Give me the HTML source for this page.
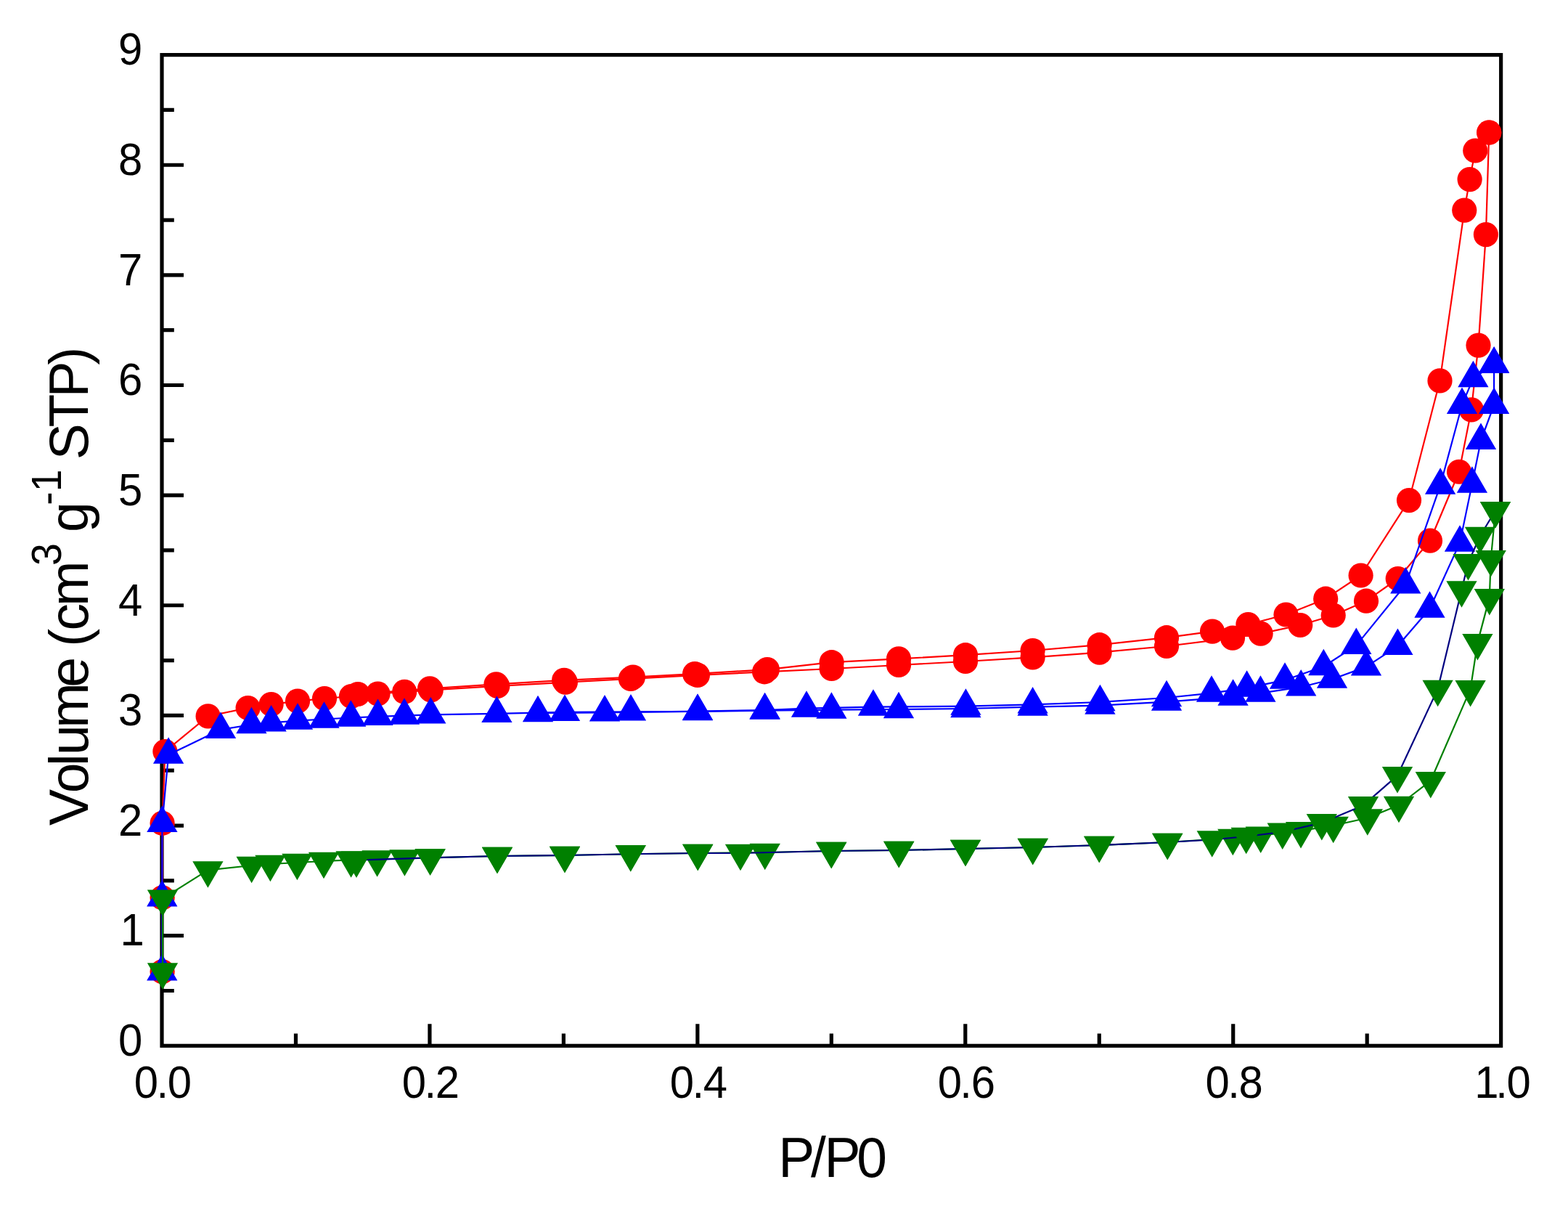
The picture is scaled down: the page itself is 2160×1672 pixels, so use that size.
<!DOCTYPE html>
<html lang="en"><head><meta charset="utf-8"><title>N2 adsorption-desorption isotherms</title>
<style>html,body{margin:0;padding:0;background:#fff}body{width:2160px;height:1672px;overflow:hidden}svg{display:block}text{font-family:"Liberation Sans",sans-serif;fill:#000}.tk{font-size:63px}</style></head><body>
<svg width="2160" height="1672" viewBox="0 0 2160 1672">
<rect width="2160" height="1672" fill="#fff"/>
<g fill="none" stroke="#000" stroke-width="5.2" stroke-linecap="butt">
<rect x="223" y="75.6" width="1844.65" height="1364.7"/>
<path d="M223 1364.48h16.8M223 1288.67h30M223 1212.85h16.8M223 1137.03h30M223 1061.22h16.8M223 985.4h30M223 909.58h16.8M223 833.77h30M223 757.95h16.8M223 682.13h30M223 606.32h16.8M223 530.5h30M223 454.68h16.8M223 378.87h30M223 303.05h16.8M223 227.23h30M223 151.42h16.8M407.47 1440.3v-16.8M591.93 1440.3v-30M776.39 1440.3v-16.8M960.86 1440.3v-30M1145.33 1440.3v-16.8M1329.79 1440.3v-30M1514.25 1440.3v-16.8M1698.72 1440.3v-30M1883.19 1440.3v-16.8"/>
</g>
<g class="tk">
<text transform="translate(163 1454.1) scale(0.95 1)">0</text>
<text transform="translate(165.5 1302.47) scale(0.95 1)">1</text>
<text transform="translate(163 1150.83) scale(0.95 1)">2</text>
<text transform="translate(163 999.2) scale(0.95 1)">3</text>
<text transform="translate(163 847.57) scale(0.95 1)">4</text>
<text transform="translate(163 695.93) scale(0.95 1)">5</text>
<text transform="translate(163 544.3) scale(0.95 1)">6</text>
<text transform="translate(163 392.67) scale(0.95 1)">7</text>
<text transform="translate(163 241.03) scale(0.95 1)">8</text>
<text transform="translate(163 89.4) scale(0.95 1)">9</text>
<text transform="translate(184.86 1512) scale(0.95 1)" x="0 32.29 48.42">0.0</text>
<text transform="translate(553.79 1512) scale(0.95 1)" x="0 32.29 48.42">0.2</text>
<text transform="translate(922.72 1512) scale(0.95 1)" x="0 32.29 48.42">0.4</text>
<text transform="translate(1291.65 1512) scale(0.95 1)" x="0 32.29 48.42">0.6</text>
<text transform="translate(1660.58 1512) scale(0.95 1)" x="0 32.29 48.42">0.8</text>
<text transform="translate(2029.51 1512) scale(0.95 1)" x="1.89 32.29 48.42">1.0</text>
</g>
<text font-size="78.0" transform="translate(1072.2 1620.9) scale(0.9615 1)" x="0 46.55 65.93 112.48">P/P0</text>
<text font-size="76.5" transform="translate(121 1137) rotate(-90) scale(0.9804 1)"><tspan x="0 45.65 83.71 98.92 136.98 194 232.06 251.08 273.87 308.09" y="0">Volume (cm</tspan><tspan font-size="56.5" x="365.1" y="-36.9">3</tspan><tspan x="393.07 412.08" y="0"> g</tspan><tspan font-size="56.5" x="450.15 468.93" y="-36.9">-1</tspan><tspan x="494.86 513.88 559.53 601.33 646.98" y="0"> STP)</tspan></text>
<polyline fill="none" stroke="#ff0000" stroke-width="2.2" stroke-linejoin="round" points="223.6,1338.2 223.6,1236.3 223.6,1133.8 227.4,1035 286.6,986.4 341.6,975 373.6,970 410,965.6 447,962 484,959 520.5,955.5 557.2,952.8 593.7,950.4 685.3,944.9 778.9,939.7 868.9,934.9 960.9,929.9 1053.1,925.3 1145.6,921 1238,916 1330,911 1422.6,905.4 1514.6,898.6 1607,890 1698,878.6 1736.6,872.6 1791.2,861 1836.7,847.5 1882,827.7 1925.7,797 1970,744.7 2010,649.75 2026.9,564.4 2036.5,475.6 2046.9,323.1 2051.25,182.5"/>
<g fill="#ff0000"><circle cx="223.6" cy="1338.2" r="17.1"/><circle cx="223.6" cy="1236.3" r="17.1"/><circle cx="223.6" cy="1133.8" r="17.1"/><circle cx="227.4" cy="1035" r="17.1"/><circle cx="286.6" cy="986.4" r="17.1"/><circle cx="341.6" cy="975" r="17.1"/><circle cx="373.6" cy="970" r="17.1"/><circle cx="410" cy="965.6" r="17.1"/><circle cx="447" cy="962" r="17.1"/><circle cx="484" cy="959" r="17.1"/><circle cx="520.5" cy="955.5" r="17.1"/><circle cx="557.2" cy="952.8" r="17.1"/><circle cx="593.7" cy="950.4" r="17.1"/><circle cx="685.3" cy="944.9" r="17.1"/><circle cx="778.9" cy="939.7" r="17.1"/><circle cx="868.9" cy="934.9" r="17.1"/><circle cx="960.9" cy="929.9" r="17.1"/><circle cx="1053.1" cy="925.3" r="17.1"/><circle cx="1145.6" cy="921" r="17.1"/><circle cx="1238" cy="916" r="17.1"/><circle cx="1330" cy="911" r="17.1"/><circle cx="1422.6" cy="905.4" r="17.1"/><circle cx="1514.6" cy="898.6" r="17.1"/><circle cx="1607" cy="890" r="17.1"/><circle cx="1698" cy="878.6" r="17.1"/><circle cx="1736.6" cy="872.6" r="17.1"/><circle cx="1791.2" cy="861" r="17.1"/><circle cx="1836.7" cy="847.5" r="17.1"/><circle cx="1882" cy="827.7" r="17.1"/><circle cx="1925.7" cy="797" r="17.1"/><circle cx="1970" cy="744.7" r="17.1"/><circle cx="2010" cy="649.75" r="17.1"/><circle cx="2026.9" cy="564.4" r="17.1"/><circle cx="2036.5" cy="475.6" r="17.1"/><circle cx="2046.9" cy="323.1" r="17.1"/><circle cx="2051.25" cy="182.5" r="17.1"/></g>
<polyline fill="none" stroke="#ff0000" stroke-width="2.2" stroke-linejoin="round" points="2051.25,182.5 2032.25,207.5 2024.6,247.1 2017.25,289.6 1983.5,524.4 1941,689.1 1874.6,792.5 1826.2,824.7 1771.5,846.5 1719.4,860 1670,869.6 1607,878.2 1514.6,888.2 1422.6,896 1330,902.2 1238,907.4 1145.6,912.2 1056.9,922.1 957.1,928.1 871.9,932.6 777.1,936.9 683.5,942.3 592.1,948.3 493,956"/>
<g fill="#ff0000"><circle cx="2051.25" cy="182.5" r="17.1"/><circle cx="2032.25" cy="207.5" r="17.1"/><circle cx="2024.6" cy="247.1" r="17.1"/><circle cx="2017.25" cy="289.6" r="17.1"/><circle cx="1983.5" cy="524.4" r="17.1"/><circle cx="1941" cy="689.1" r="17.1"/><circle cx="1874.6" cy="792.5" r="17.1"/><circle cx="1826.2" cy="824.7" r="17.1"/><circle cx="1771.5" cy="846.5" r="17.1"/><circle cx="1719.4" cy="860" r="17.1"/><circle cx="1670" cy="869.6" r="17.1"/><circle cx="1607" cy="878.2" r="17.1"/><circle cx="1514.6" cy="888.2" r="17.1"/><circle cx="1422.6" cy="896" r="17.1"/><circle cx="1330" cy="902.2" r="17.1"/><circle cx="1238" cy="907.4" r="17.1"/><circle cx="1145.6" cy="912.2" r="17.1"/><circle cx="1056.9" cy="922.1" r="17.1"/><circle cx="957.1" cy="928.1" r="17.1"/><circle cx="871.9" cy="932.6" r="17.1"/><circle cx="777.1" cy="936.9" r="17.1"/><circle cx="683.5" cy="942.3" r="17.1"/><circle cx="592.1" cy="948.3" r="17.1"/><circle cx="493" cy="956" r="17.1"/></g>
<polyline fill="none" stroke="#0000ff" stroke-width="2.2" stroke-linejoin="round" points="223.3,1338.2 223.3,1236.3 223.4,1133.8 232.1,1039.6 304,1004.8 346.4,998 373.6,995.4 410,992.6 446.5,990.5 483.3,988.5 520.5,986.9 557,985.6 593.3,984.4 684.4,982.8 778,980.8 869,980.4 961,980 1053.6,978.6 1145.4,977.6 1238,977 1330.4,976 1422.6,973.6 1515.4,971.6 1607,966.6 1698.6,959.6 1736.4,954.6 1792.2,946.3 1835,935.5 1882,918.4 1925.4,889.8 1969.5,838.5 2011,747.6 2027.9,666.5 2040,606.75 2058.1,557.75 2058.1,501.5"/>
<g fill="#0000ff"><path d="M223.3 1313.9L244.45 1350.4L202.15 1350.4Z"/><path d="M223.3 1212L244.45 1248.5L202.15 1248.5Z"/><path d="M223.4 1109.5L244.55 1146L202.25 1146Z"/><path d="M232.1 1015.3L253.25 1051.8L210.95 1051.8Z"/><path d="M304 980.5L325.15 1017L282.85 1017Z"/><path d="M346.4 973.7L367.55 1010.2L325.25 1010.2Z"/><path d="M373.6 971.1L394.75 1007.6L352.45 1007.6Z"/><path d="M410 968.3L431.15 1004.8L388.85 1004.8Z"/><path d="M446.5 966.2L467.65 1002.7L425.35 1002.7Z"/><path d="M483.3 964.2L504.45 1000.7L462.15 1000.7Z"/><path d="M520.5 962.6L541.65 999.1L499.35 999.1Z"/><path d="M557 961.3L578.15 997.8L535.85 997.8Z"/><path d="M593.3 960.1L614.45 996.6L572.15 996.6Z"/><path d="M684.4 958.5L705.55 995L663.25 995Z"/><path d="M778 956.5L799.15 993L756.85 993Z"/><path d="M869 956.1L890.15 992.6L847.85 992.6Z"/><path d="M961 955.7L982.15 992.2L939.85 992.2Z"/><path d="M1053.6 954.3L1074.75 990.8L1032.45 990.8Z"/><path d="M1145.4 953.3L1166.55 989.8L1124.25 989.8Z"/><path d="M1238 952.7L1259.15 989.2L1216.85 989.2Z"/><path d="M1330.4 951.7L1351.55 988.2L1309.25 988.2Z"/><path d="M1422.6 949.3L1443.75 985.8L1401.45 985.8Z"/><path d="M1515.4 947.3L1536.55 983.8L1494.25 983.8Z"/><path d="M1607 942.3L1628.15 978.8L1585.85 978.8Z"/><path d="M1698.6 935.3L1719.75 971.8L1677.45 971.8Z"/><path d="M1736.4 930.3L1757.55 966.8L1715.25 966.8Z"/><path d="M1792.2 922L1813.35 958.5L1771.05 958.5Z"/><path d="M1835 911.2L1856.15 947.7L1813.85 947.7Z"/><path d="M1882 894.1L1903.15 930.6L1860.85 930.6Z"/><path d="M1925.4 865.5L1946.55 902L1904.25 902Z"/><path d="M1969.5 814.2L1990.65 850.7L1948.35 850.7Z"/><path d="M2011 723.3L2032.15 759.8L1989.85 759.8Z"/><path d="M2027.9 642.2L2049.05 678.7L2006.75 678.7Z"/><path d="M2040 582.45L2061.15 618.95L2018.85 618.95Z"/><path d="M2058.1 533.45L2079.25 569.95L2036.95 569.95Z"/><path d="M2058.1 477.2L2079.25 513.7L2036.95 513.7Z"/></g>
<polyline fill="none" stroke="#0000ff" stroke-width="2.2" stroke-linejoin="round" points="2058.1,501.5 2029.4,521.1 2014,557.75 1984.1,668.6 1936.3,805.3 1868.3,888.9 1823.3,918 1770,936.6 1717.6,947.6 1669,954.6 1607,961 1515.4,967 1422.6,970.4 1330.4,972.6 1203,973.6 1111,975.6 1053.6,978 961,979.6 833,981.4 741,982"/>
<g fill="#0000ff"><path d="M2058.1 477.2L2079.25 513.7L2036.95 513.7Z"/><path d="M2029.4 496.8L2050.55 533.3L2008.25 533.3Z"/><path d="M2014 533.45L2035.15 569.95L1992.85 569.95Z"/><path d="M1984.1 644.3L2005.25 680.8L1962.95 680.8Z"/><path d="M1936.3 781L1957.45 817.5L1915.15 817.5Z"/><path d="M1868.3 864.6L1889.45 901.1L1847.15 901.1Z"/><path d="M1823.3 893.7L1844.45 930.2L1802.15 930.2Z"/><path d="M1770 912.3L1791.15 948.8L1748.85 948.8Z"/><path d="M1717.6 923.3L1738.75 959.8L1696.45 959.8Z"/><path d="M1669 930.3L1690.15 966.8L1647.85 966.8Z"/><path d="M1607 936.7L1628.15 973.2L1585.85 973.2Z"/><path d="M1515.4 942.7L1536.55 979.2L1494.25 979.2Z"/><path d="M1422.6 946.1L1443.75 982.6L1401.45 982.6Z"/><path d="M1330.4 948.3L1351.55 984.8L1309.25 984.8Z"/><path d="M1203 949.3L1224.15 985.8L1181.85 985.8Z"/><path d="M1111 951.3L1132.15 987.8L1089.85 987.8Z"/><path d="M1053.6 953.7L1074.75 990.2L1032.45 990.2Z"/><path d="M961 955.3L982.15 991.8L939.85 991.8Z"/><path d="M833 957.1L854.15 993.6L811.85 993.6Z"/><path d="M741 957.7L762.15 994.2L719.85 994.2Z"/></g>
<polyline fill="none" stroke="#008000" stroke-width="2.2" stroke-linejoin="round" points="224,1338.4 224,1237.6 286.4,1198.4 346.6,1192 372.4,1190 409.4,1188 446,1186 483.6,1184.4 519.6,1183.4 557.4,1182.4 592.6,1181.4 685,1179 778,1178 868.75,1176.25 961.25,1175 1053.75,1174 1145.25,1172 1238.25,1171 1330,1169 1422.75,1167 1514.25,1164 1608.25,1160 1698.3,1154 1736.7,1150.7 1792,1144.2 1836.7,1137 1883.8,1126.5 1927,1109 1970.8,1075.3 2025.6,949.1 2035.4,885.1 2051.8,823.1 2053.75,770.1 2060,703.25"/>
<g fill="#008000"><path d="M224 1362.7L245.15 1326.2L202.85 1326.2Z"/><path d="M224 1261.9L245.15 1225.4L202.85 1225.4Z"/><path d="M286.4 1222.7L307.55 1186.2L265.25 1186.2Z"/><path d="M346.6 1216.3L367.75 1179.8L325.45 1179.8Z"/><path d="M372.4 1214.3L393.55 1177.8L351.25 1177.8Z"/><path d="M409.4 1212.3L430.55 1175.8L388.25 1175.8Z"/><path d="M446 1210.3L467.15 1173.8L424.85 1173.8Z"/><path d="M483.6 1208.7L504.75 1172.2L462.45 1172.2Z"/><path d="M519.6 1207.7L540.75 1171.2L498.45 1171.2Z"/><path d="M557.4 1206.7L578.55 1170.2L536.25 1170.2Z"/><path d="M592.6 1205.7L613.75 1169.2L571.45 1169.2Z"/><path d="M685 1203.3L706.15 1166.8L663.85 1166.8Z"/><path d="M778 1202.3L799.15 1165.8L756.85 1165.8Z"/><path d="M868.75 1200.55L889.9 1164.05L847.6 1164.05Z"/><path d="M961.25 1199.3L982.4 1162.8L940.1 1162.8Z"/><path d="M1053.75 1198.3L1074.9 1161.8L1032.6 1161.8Z"/><path d="M1145.25 1196.3L1166.4 1159.8L1124.1 1159.8Z"/><path d="M1238.25 1195.3L1259.4 1158.8L1217.1 1158.8Z"/><path d="M1330 1193.3L1351.15 1156.8L1308.85 1156.8Z"/><path d="M1422.75 1191.3L1443.9 1154.8L1401.6 1154.8Z"/><path d="M1514.25 1188.3L1535.4 1151.8L1493.1 1151.8Z"/><path d="M1608.25 1184.3L1629.4 1147.8L1587.1 1147.8Z"/><path d="M1698.3 1178.3L1719.45 1141.8L1677.15 1141.8Z"/><path d="M1736.7 1175L1757.85 1138.5L1715.55 1138.5Z"/><path d="M1792 1168.5L1813.15 1132L1770.85 1132Z"/><path d="M1836.7 1161.3L1857.85 1124.8L1815.55 1124.8Z"/><path d="M1883.8 1150.8L1904.95 1114.3L1862.65 1114.3Z"/><path d="M1927 1133.3L1948.15 1096.8L1905.85 1096.8Z"/><path d="M1970.8 1099.6L1991.95 1063.1L1949.65 1063.1Z"/><path d="M2025.6 973.4L2046.75 936.9L2004.45 936.9Z"/><path d="M2035.4 909.4L2056.55 872.9L2014.25 872.9Z"/><path d="M2051.8 847.4L2072.95 810.9L2030.65 810.9Z"/><path d="M2053.75 794.4L2074.9 757.9L2032.6 757.9Z"/><path d="M2060 727.55L2081.15 691.05L2038.85 691.05Z"/></g>
<polyline fill="none" stroke="#000080" stroke-width="2.2" stroke-linejoin="round" points="2060,703.25 2039,738 2022.5,775.1 2013.5,812.4 1980.6,948.9 1925,1068.2 1878,1109.2 1820.8,1133.3 1766.7,1145.8 1716.7,1152 1669.7,1156.5 1608.25,1160 1514.25,1164 1422.75,1167 1330,1169 1238.25,1171 1145.25,1172 1020,1175 961.25,1175 868.75,1176.25 778,1178 685,1179 592.6,1181.4 491,1184.6"/>
<g fill="#008000"><path d="M2060 727.55L2081.15 691.05L2038.85 691.05Z"/><path d="M2039 762.3L2060.15 725.8L2017.85 725.8Z"/><path d="M2022.5 799.4L2043.65 762.9L2001.35 762.9Z"/><path d="M2013.5 836.7L2034.65 800.2L1992.35 800.2Z"/><path d="M1980.6 973.2L2001.75 936.7L1959.45 936.7Z"/><path d="M1925 1092.5L1946.15 1056L1903.85 1056Z"/><path d="M1878 1133.5L1899.15 1097L1856.85 1097Z"/><path d="M1820.8 1157.6L1841.95 1121.1L1799.65 1121.1Z"/><path d="M1766.7 1170.1L1787.85 1133.6L1745.55 1133.6Z"/><path d="M1716.7 1176.3L1737.85 1139.8L1695.55 1139.8Z"/><path d="M1669.7 1180.8L1690.85 1144.3L1648.55 1144.3Z"/><path d="M1608.25 1184.3L1629.4 1147.8L1587.1 1147.8Z"/><path d="M1514.25 1188.3L1535.4 1151.8L1493.1 1151.8Z"/><path d="M1422.75 1191.3L1443.9 1154.8L1401.6 1154.8Z"/><path d="M1330 1193.3L1351.15 1156.8L1308.85 1156.8Z"/><path d="M1238.25 1195.3L1259.4 1158.8L1217.1 1158.8Z"/><path d="M1145.25 1196.3L1166.4 1159.8L1124.1 1159.8Z"/><path d="M1020 1199.3L1041.15 1162.8L998.85 1162.8Z"/><path d="M961.25 1199.3L982.4 1162.8L940.1 1162.8Z"/><path d="M868.75 1200.55L889.9 1164.05L847.6 1164.05Z"/><path d="M778 1202.3L799.15 1165.8L756.85 1165.8Z"/><path d="M685 1203.3L706.15 1166.8L663.85 1166.8Z"/><path d="M592.6 1205.7L613.75 1169.2L571.45 1169.2Z"/><path d="M491 1208.9L512.15 1172.4L469.85 1172.4Z"/></g>
</svg></body></html>
